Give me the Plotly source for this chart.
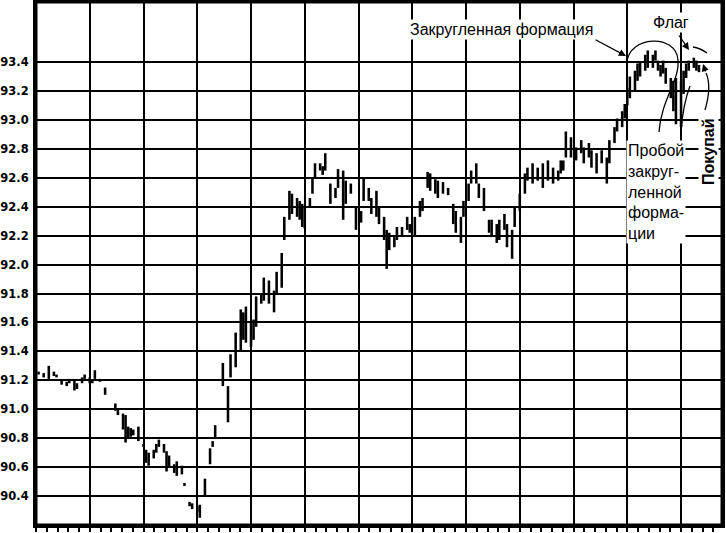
import plotly.graph_objects as go

# ---- data (trading day index, daily high / low) ----
days = [1, 3, 5, 7, 8, 10, 12, 13, 15, 16, 18, 19, 21, 22, 23, 25, 27, 31, 32, 34,
        35, 36, 37, 38, 40, 42, 43, 44, 46, 47, 48, 50, 51, 52, 54, 55, 57, 58, 60, 61,
        63, 64, 66, 68, 69, 70, 73, 75, 76, 78, 80, 81, 82, 84, 85, 86, 88, 89, 91, 93,
        94, 96, 97, 99, 100, 102, 103, 104, 105, 107, 108, 109, 111, 112, 113, 115, 117, 118, 120, 121,
        123, 125, 127, 128, 130, 131, 133, 134, 136, 137, 138, 140, 141, 143, 145, 146, 148, 150, 151, 153,
        154, 156, 157, 159, 161, 163, 164, 166, 167, 169, 170, 172, 173, 175, 177, 178, 180, 181, 183, 184,
        186, 187, 189, 191, 192, 194, 196, 198, 200, 202, 204, 205, 206, 207, 209, 211, 213, 214, 216, 217,
        219, 221, 223, 224, 226, 227, 229, 230, 231, 232, 234, 235, 236, 238, 239, 241, 242, 243, 244, 245,
        246, 248, 249, 250, 252, 253, 254, 255, 257, 258, 259]

highs = [91.26, 91.25, 91.30, 91.26, 91.24, 91.20, 91.19, 91.21, 91.20, 91.18, 91.22, 91.24, 91.22, 91.20, 91.27, 91.21, 91.15, 91.04, 91.00, 90.97,
         90.96, 90.88, 90.87, 90.86, 90.88, 90.76, 90.72, 90.70, 90.72, 90.76, 90.79, 90.76, 90.71, 90.68, 90.62, 90.64, 90.61, 90.49, 90.36, 90.35,
         90.33, 90.34, 90.52, 90.73, 90.78, 90.89, 91.32, 91.16, 91.38, 91.53, 91.69, 91.67, 91.71, 91.60, 91.62, 91.78, 91.80, 91.91, 91.89, 91.82,
         91.95, 92.08, 92.33, 92.51, 92.49, 92.46, 92.44, 92.42, 92.40, 92.46, 92.60, 92.70, 92.70, 92.68, 92.77, 92.56, 92.53, 92.66, 92.65, 92.58,
         92.56, 92.40, 92.37, 92.60, 92.53, 92.46, 92.51, 92.40, 92.33, 92.24, 92.22, 92.19, 92.26, 92.26, 92.33, 92.28, 92.33, 92.44, 92.46, 92.64,
         92.63, 92.59, 92.58, 92.57, 92.53, 92.42, 92.37, 92.33, 92.44, 92.56, 92.65, 92.70, 92.56, 92.53, 92.31, 92.31, 92.28, 92.31, 92.35, 92.28,
         92.24, 92.40, 92.49, 92.63, 92.67, 92.70, 92.67, 92.70, 92.72, 92.67, 92.65, 92.72, 92.72, 92.92, 92.88, 92.81, 92.86, 92.81, 92.84, 92.79,
         92.77, 92.79, 92.74, 92.86, 92.95, 93.01, 93.06, 93.11, 93.22, 93.30, 93.34, 93.39, 93.40, 93.45, 93.48, 93.45, 93.48, 93.41, 93.38, 93.41,
         93.36, 93.29, 93.27, 93.29, 93.27, 93.34, 93.39, 93.41, 93.43, 93.41, 93.38]

lows = [91.24, 91.22, 91.21, 91.23, 91.22, 91.17, 91.16, 91.18, 91.13, 91.14, 91.18, 91.21, 91.18, 91.18, 91.21, 91.19, 91.10, 90.99, 90.96, 90.86,
        90.77, 90.80, 90.81, 90.82, 90.78, 90.74, 90.63, 90.61, 90.66, 90.70, 90.74, 90.70, 90.57, 90.60, 90.56, 90.54, 90.55, 90.47, 90.33, 90.31,
        90.29, 90.25, 90.40, 90.62, 90.74, 90.80, 91.16, 90.91, 91.22, 91.29, 91.41, 91.48, 91.46, 91.43, 91.48, 91.57, 91.73, 91.75, 91.73, 91.67,
        91.80, 91.84, 92.17, 92.31, 92.35, 92.33, 92.31, 92.26, 92.25, 92.40, 92.49, 92.60, 92.65, 92.62, 92.65, 92.42, 92.46, 92.53, 92.31, 92.42,
        92.49, 92.24, 92.29, 92.44, 92.44, 92.35, 92.33, 92.28, 92.17, 91.97, 92.10, 92.12, 92.17, 92.19, 92.24, 92.22, 92.19, 92.33, 92.37, 92.53,
        92.51, 92.49, 92.46, 92.49, 92.48, 92.28, 92.22, 92.15, 92.33, 92.44, 92.56, 92.56, 92.46, 92.37, 92.22, 92.19, 92.15, 92.17, 92.24, 92.12,
        92.04, 92.26, 92.37, 92.49, 92.58, 92.56, 92.58, 92.53, 92.58, 92.56, 92.58, 92.63, 92.65, 92.74, 92.74, 92.72, 92.77, 92.70, 92.74, 92.67,
        92.63, 92.70, 92.56, 92.70, 92.84, 92.92, 92.95, 93.01, 93.10, 93.15, 93.20, 93.27, 93.30, 93.34, 93.36, 93.36, 93.41, 93.34, 93.30, 93.32,
        93.25, 93.15, 93.06, 92.97, 92.95, 93.18, 93.29, 93.34, 93.36, 93.34, 93.33]

y_ticks = [90.4, 90.6, 90.8, 91.0, 91.2, 91.4, 91.6, 91.8, 92.0, 92.2, 92.4, 92.6, 92.8, 93.0, 93.2, 93.4]
y_labels = ["90.4", "90.6", "90.8", "91.0", "91.2", "91.4", "91.6", "91.8", "92.0", "92.2",
            "92.4", "92.6", "92.8", "93.0", "93.2", "93.4"]

ranges = [h - l for h, l in zip(highs, lows)]

W, H = 726, 533
L, R, T, B = 36, 4, 2, 8
PW, PH = W - L - R, H - T - B


def px(x, y):
    return (x - L) / PW, (H - B - y) / PH


def path(cmds):
    out = []
    for c in cmds:
        if isinstance(c, str):
            out.append(c)
        else:
            a, b = px(*c)
            out.append(f"{a:.5f},{b:.5f}")
    return " ".join(out)


fig = go.Figure()
fig.add_trace(go.Bar(x=days, y=ranges, base=lows, width=1.0,
                     marker=dict(color="black", line=dict(width=0)),
                     showlegend=False, hoverinfo="skip"))

fig.update_layout(
    width=W, height=H,
    margin=dict(l=L, r=R, t=T, b=B, autoexpand=False),
    plot_bgcolor="white", paper_bgcolor="white",
    showlegend=False,
    font=dict(family="Liberation Sans, Arial, sans-serif", color="black"),
)

fig.update_xaxes(range=[0, 268], tick0=0, dtick=21, showgrid=True, gridcolor="black", gridwidth=2,
                 showticklabels=False, ticks="outside", ticklen=4, tickcolor="black", tickwidth=1.5,
                 minor=dict(dtick=4.2, tick0=0, ticks="outside", ticklen=4, tickcolor="black", tickwidth=1.5),
                 showline=True, linecolor="black", linewidth=3, mirror=True, zeroline=False,
                 automargin=False)
fig.update_yaxes(range=[90.2, 93.815], tickvals=y_ticks, ticktext=y_labels,
                 showgrid=True, gridcolor="black", gridwidth=2,
                 tickfont=dict(family="DejaVu Sans", size=11.5, color="black", weight="bold"),
                 ticks="", ticklabelstandoff=2,
                 showline=True, linecolor="black", linewidth=3, mirror=True, zeroline=False,
                 automargin=False)

ann = []


def text(t, x, y, size=16, xanchor="center", yanchor="middle", bold=False, angle=0, align="center"):
    a, b = px(x, y)
    ann.append(dict(x=a, y=b, xref="paper", yref="paper", text=t, showarrow=False,
                    xanchor=xanchor, yanchor=yanchor, textangle=angle, align=align,
                    bgcolor="white", borderpad=1,
                    font=dict(size=size, color="black", family="Liberation Sans, Arial, sans-serif",
                              weight="bold" if bold else "normal")))


def arrow(tip, tail):
    a, b = px(*tip)
    ann.append(dict(x=a, y=b, xref="paper", yref="paper", text="", showarrow=True,
                    ax=tail[0] - tip[0], ay=tail[1] - tip[1], arrowhead=2, arrowsize=1.1,
                    arrowwidth=1.3, arrowcolor="black", standoff=0))


text("Закругленная формация", 502, 30)
text("Флаг", 671, 23)
text("Пробой<br>закруг-<br>ленной<br>форма-<br>ции", 626, 192, xanchor="left", align="left")
text("Покупай", 708, 152, bold=True, angle=-90)

arrow((626, 56), (594, 39))
arrow((689, 50), (678, 34))
arrow((703, 64), (706, 73))

fig.update_layout(annotations=ann)

line = dict(color="black", width=1.3)
shapes = [
    dict(type="rect", xref="paper", yref="paper", x0=0, x1=1, y0=0, y1=1,
         line=dict(color="black", width=3), layer="above"),
    dict(type="path", xref="paper", yref="paper", line=line,
         path=path(["M", (627, 62), "C", (629, 36), (676, 33), (678, 60), "C", (680, 80), (661, 100), (659, 132)])),
    dict(type="path", xref="paper", yref="paper", line=line,
         path=path(["M", (681, 132), "Q", (683, 104), (690, 86)])),
    dict(type="path", xref="paper", yref="paper", line=line,
         path=path(["M", (705, 110), "Q", (712, 86), (706, 73)])),
    dict(type="path", xref="paper", yref="paper", line=line,
         path=path(["M", (693, 47), "Q", (700, 48), (707, 53)])),
]
fig.update_layout(shapes=shapes)

fig.write_html("out.html", config={"displayModeBar": False},
               post_script="document.body.style.margin='0';document.body.style.overflow='hidden';")
